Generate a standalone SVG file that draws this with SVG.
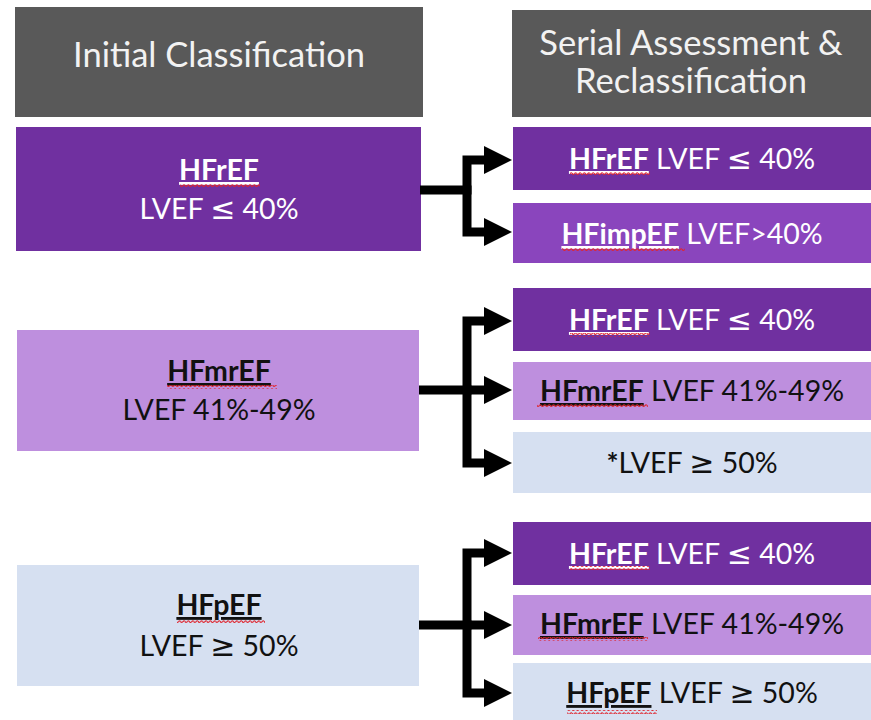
<svg xmlns="http://www.w3.org/2000/svg" width="871" height="720" viewBox="0 0 871 720">
  <style>
    .hdr { fill: #595959; }
    .dark { fill: #7030A0; }
    .mid { fill: #8A45BD; }
    .light { fill: #BE8FDE; }
    .blue { fill: #D6E0F1; }
    text { font-family: Lato, "Open Sans", "Liberation Sans", sans-serif; text-anchor: middle; }
    .ht { font-size: 34.5px; fill: #F2F2F2; }
    .t { font-size: 28.5px; }
    .w { fill: #FFFFFF; }
    .k { fill: #111111; }
    .b { font-weight: bold; text-decoration: underline; }
    .m { font-family: "DejaVu Sans", sans-serif; font-size: 30px; }
    .conn path { fill: none; stroke: #000; stroke-width: 9; stroke-linejoin: miter; }
    .conn path.arrow { marker-end: url(#head); }
  </style>
  <defs>
    <marker id="head" markerUnits="userSpaceOnUse" markerWidth="28" markerHeight="28" refX="0" refY="14" orient="auto">
      <path d="M0,0 L28,14 L0,28 Z" fill="#000"/>
    </marker>
    <pattern id="squiggle" patternUnits="userSpaceOnUse" width="4.4" height="4">
      <path d="M0,1 Q1.1,3.4 2.2,2 T4.4,1" fill="none" stroke="#E0242E" stroke-width="1.1"/>
    </pattern>
  </defs>

  <!-- column headers -->
  <g id="header-initial">
    <rect class="hdr" x="15" y="7" width="408" height="110"/>
    <text class="ht" x="219" y="67">Initial Classification</text>
  </g>
  <g id="header-serial">
    <rect class="hdr" x="512" y="10" width="362" height="107"/>
    <text class="ht" x="691" y="55">Serial Assessment &amp;</text>
    <text class="ht" x="691" y="93">Reclassification</text>
  </g>

  <!-- initial classes -->
  <g id="init-hfref">
    <rect class="dark" x="16" y="127" width="405" height="124"/>
    <text class="t w" x="219" y="180"><tspan class="b">HFrEF</tspan></text>
    <text class="t w" x="219" y="219">LVEF <tspan class="m">≤</tspan> 40%</text>
    <rect x="180" y="183" width="80" height="4" fill="url(#squiggle)"/>
  </g>
  <g id="init-hfmref">
    <rect class="light" x="17" y="330" width="402" height="121"/>
    <text class="t k" x="219" y="381"><tspan class="b">HFmrEF</tspan></text>
    <text class="t k" x="219" y="420">LVEF 41%-49%</text>
    <rect x="167" y="385" width="110" height="4" fill="url(#squiggle)"/>
  </g>
  <g id="init-hfpef">
    <rect class="blue" x="17" y="565" width="402" height="121"/>
    <text class="t k" x="219" y="615"><tspan class="b">HFpEF</tspan></text>
    <text class="t k" x="219" y="656">LVEF <tspan class="m">≥</tspan> 50%</text>
    <rect x="177" y="619" width="88" height="4" fill="url(#squiggle)"/>
  </g>

  <!-- reclassification outcomes -->
  <g id="r1-hfref">
    <rect class="dark" x="513" y="127" width="360" height="63"/>
    <text class="t w" x="692" y="169"><tspan class="b">HFrEF</tspan> LVEF <tspan class="m">≤</tspan> 40%</text>
    <rect x="570" y="172" width="80" height="4" fill="url(#squiggle)"/>
  </g>
  <g id="r1-hfimpef">
    <rect class="mid" x="513" y="203" width="360" height="60"/>
    <text class="t w" x="692" y="244"><tspan class="b">HFimpEF</tspan> LVEF&gt;40%</text>
    <rect x="562" y="247" width="123" height="4" fill="url(#squiggle)"/>
  </g>
  <g id="r2-hfref">
    <rect class="dark" x="513" y="288" width="360" height="63"/>
    <text class="t w" x="692" y="330"><tspan class="b">HFrEF</tspan> LVEF <tspan class="m">≤</tspan> 40%</text>
    <rect x="570" y="333" width="80" height="4" fill="url(#squiggle)"/>
  </g>
  <g id="r2-hfmref">
    <rect class="light" x="513" y="362" width="360" height="58"/>
    <text class="t k" x="692" y="401"><tspan class="b">HFmrEF</tspan> LVEF 41%-49%</text>
    <rect x="537" y="404" width="111" height="4" fill="url(#squiggle)"/>
  </g>
  <g id="r2-lvef50">
    <rect class="blue" x="513" y="432" width="360" height="61"/>
    <text class="t k" x="692" y="473"><tspan font-weight="bold">*</tspan>LVEF <tspan class="m">≥</tspan> 50%</text>
  </g>
  <g id="r3-hfref">
    <rect class="dark" x="513" y="522" width="360" height="63"/>
    <text class="t w" x="692" y="564"><tspan class="b">HFrEF</tspan> LVEF <tspan class="m">≤</tspan> 40%</text>
    <rect x="570" y="566" width="80" height="4" fill="url(#squiggle)"/>
  </g>
  <g id="r3-hfmref">
    <rect class="light" x="513" y="595" width="360" height="60"/>
    <text class="t k" x="692" y="634"><tspan class="b">HFmrEF</tspan> LVEF 41%-49%</text>
    <rect x="538" y="637" width="110" height="4" fill="url(#squiggle)"/>
  </g>
  <g id="r3-hfpef">
    <rect class="blue" x="513" y="663" width="360" height="61"/>
    <text class="t k" x="692" y="703"><tspan class="b">HFpEF</tspan> LVEF <tspan class="m">≥</tspan> 50%</text>
    <rect x="567" y="710" width="90" height="4" fill="url(#squiggle)"/>
  </g>

  <!-- branching connectors -->
  <g id="connectors" class="conn">
    <path d="M420,190 H471.5"/>
    <path class="arrow" d="M467,190 V160 H484"/>
    <path class="arrow" d="M467,190 V232 H484"/>

    <path d="M419,390 H471.5"/>
    <path class="arrow" d="M467,390 V321 H484"/>
    <path class="arrow" d="M467,390 H484"/>
    <path class="arrow" d="M467,390 V463 H484"/>

    <path d="M419,625 H471.5"/>
    <path class="arrow" d="M467,625 V553 H484"/>
    <path class="arrow" d="M467,625 H484"/>
    <path class="arrow" d="M467,625 V693 H484"/>
  </g>
</svg>
